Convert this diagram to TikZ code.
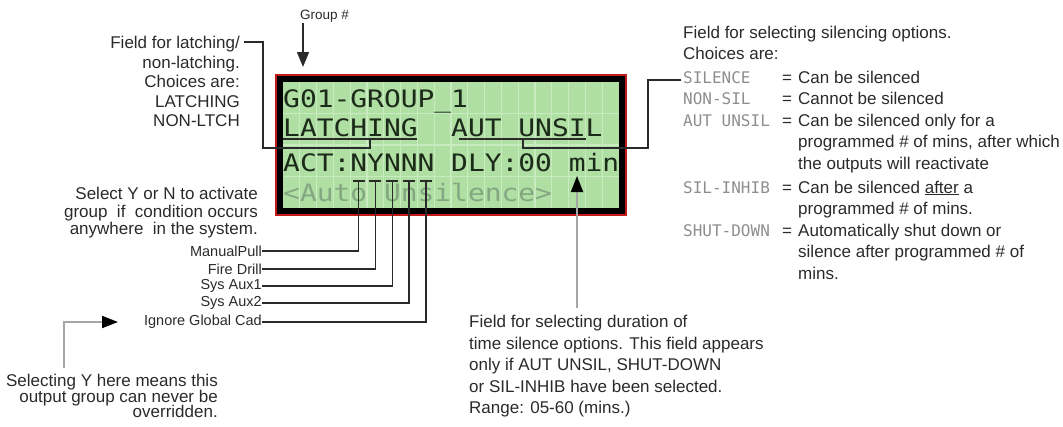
\documentclass[tikz,border=0pt]{standalone}
\usepackage{fontspec}
\setmainfont{Liberation Sans}
\newfontfamily\lcdfont[FakeStretch=1.163]{DejaVu Sans Mono}
\newfontfamily\codefont{DejaVu Sans Mono}
\usetikzlibrary{arrows.meta,positioning,calc}
\definecolor{Ink}{HTML}{2A2A2A}
\definecolor{Lead}{HTML}{A6A6A6}
\definecolor{CodeGrey}{HTML}{8E8E8E}
\definecolor{Bezel}{HTML}{C21A1A}
\definecolor{LcdGreen}{HTML}{B0DFA4}
\definecolor{LcdGrid}{HTML}{C8ECBF}
\definecolor{LcdInk}{HTML}{1C2A19}
\definecolor{LcdDim}{HTML}{84A781}
\tikzset{
  lcdbox/.style={draw=black,fill=LcdGreen,line width=6pt,minimum width=342pt,minimum height=132pt,inner sep=0pt,outer sep=0pt},
  bezel/.style={draw=Bezel,line width=2pt},
  cellrule/.style={draw=LcdGrid,line width=1.3pt},
  lcdrow/.style={font={\lcdfont\fontsize{24}{24}\selectfont},text=LcdInk,inner sep=0pt,anchor=base west},
  note/.style={font=\fontsize{17}{20.5}\selectfont,text=Ink,inner sep=0pt,align=right},
  tag/.style={font=\fontsize{14.5}{17}\selectfont,text=Ink,inner sep=0pt,anchor=east},
  code/.style={font={\codefont\fontsize{16}{16}\selectfont},text=CodeGrey,inner sep=0pt,anchor=base west},
  wire/.style={draw=Ink,line width=1.4pt},
  flow/.style={draw=Ink,line width=1.4pt,-{Triangle[length=15pt,width=12pt]}},
  pointer/.style={draw=Lead,line width=1.8pt,-{Triangle[length=16pt,width=12pt,color=black]}}
}
\begin{document}
\begin{tikzpicture}[x=1pt,y=-1pt]
        \useasboundingbox (0,0) rectangle (1063,426);

        % the display
        \node[lcdbox] (lcd) at (451,145) {};
        \draw[bezel] ([shift={(-4pt,-4pt)}]lcd.south west) rectangle ([shift={(4pt,4pt)}]lcd.north east);
        \foreach \k in {1,...,19}
          \draw[cellrule] ({283+16.8*\k},82) -- ++(0,126);
        \foreach \yy in {113.5,145,176.5}
          \draw[cellrule] (283,\yy) -- (619,\yy);

        \node[lcdrow] (row1) at (283,107) {G01-GROUP\_1};
        \node[lcdrow] (row2) at (283,136) {LATCHING~~AUT UNSIL};
        \node[lcdrow] (row3) at (283,171) {ACT:NYNNN DLY:00 min};
        \node[lcdrow,text=LcdDim] (row4) at (283,201) {<Auto Unsilence>};

        % group number
        \node[font=\fontsize{13.5}{16}\selectfont,text=Ink,inner sep=0pt,anchor=base west] (grp) at (300,19) {Group \#};
        \coordinate (grpFoot) at (303,23);
        \coordinate (grpTip) at (303,67);
        \draw[flow] (grpFoot) -- (grpTip);

        % latching field
        \node[note,anchor=north east,font=\fontsize{17}{19.5}\selectfont] (fldLatch) at (240,36)
          {Field for latching/\\non-latching.\\Choices are:\\LATCHING\\NON-LTCH};
        \coordinate (latA) at (283,139);
        \coordinate (latB) at (417,139);
        \coordinate (latTap) at (370,139);
        \coordinate (latCorner) at (263,42);
        \coordinate (latLead) at (244,42);
        \draw[wire] (latA) -- (latB);
        \draw[wire] (latTap) -- ++(0,9) -| (latCorner) -- (latLead);

        % silencing field
        \coordinate (autA) at (459,139);
        \coordinate (autB) at (586,139);
        \coordinate (autTap) at (523,139);
        \coordinate (autCorner) at (648,80);
        \coordinate (autLead) at (681,80);
        \draw[wire] (autA) -- (autB);
        \draw[wire] (autTap) -- ++(0,9) -| (autCorner) -- (autLead);

        \node[note,anchor=north west,align=left] (silHead) at (683,26)
          {Field for selecting silencing options.\\Choices are:};
        \foreach \nm/\cd/\yy in {sil/SILENCE/83,non/NON-SIL/104,aut/AUT UNSIL/126,inh/SIL-INHIB/193,shd/SHUT-DOWN/236}{
          \node[code] (\nm) at (683,\yy) {\cd};
          \node[note,anchor=base west] (\nm eq) at (782,\yy) {=};
        }
        \node[note,anchor=base west] (silTxt) at (798,83) {Can be silenced};
        \node[note,anchor=base west] (nonTxt) at (798,104) {Cannot be silenced};
        \node[note,anchor=north west,align=left,font=\fontsize{17}{21.5}\selectfont] (autTxt) at (798,113.5)
          {Can be silenced only for a\\programmed \# of mins, after which\\the outputs will reactivate};
        \node[note,anchor=north west,align=left,font=\fontsize{17}{21.5}\selectfont] (inhTxt) at (798,180.5)
          {Can be silenced \underline{after} a\\programmed \# of mins.};
        \node[note,anchor=north west,align=left,font=\fontsize{17}{21.5}\selectfont] (shdTxt) at (798,223.5)
          {Automatically shut down or\\silence after programmed \# of\\mins.};

        % activation flags
        \node[note,anchor=north east,font=\fontsize{17}{17.5}\selectfont] (selYN) at (258,187)
          {Select Y or N to activate\\group~ if~ condition occurs\\anywhere~ in the system.};
        \foreach \nm/\txt/\yy/\k in {mp/ManualPull/251/4,fd/Fire Drill/269/5,sa/Sys Aux1/286/6,sb/Sys Aux2/303/7,ig/Ignore Global Cad/322/8}{
          \node[tag] (\nm) at (262,\yy) {\txt};
          \coordinate (t\nm) at ({283+16.8*(\k+0.5)},181);
          \draw[wire] (\nm.east) -| (t\nm);
          \draw[wire] ([xshift=-6pt]t\nm) -- ([xshift=6pt]t\nm);
        }

        % override note
        \coordinate (ovrFoot) at (64,368);
        \coordinate (ovrTip) at (118,322);
        \draw[pointer] (ovrFoot) |- (ovrTip);
        \node[note,anchor=north east,font={\fontsize{17}{15.5}\selectfont\lineskiplimit=-20pt}] (ovr) at (218,374)
          {Selecting Y here means this\\output group can never be\\overridden.};

        % delay field
        \coordinate (minFoot) at (577,308);
        \coordinate (minTip) at (577,176);
        \draw[pointer] (minFoot) -- (minTip);
        \node[note,anchor=north west,align=left,font=\fontsize{17}{21.5}\selectfont] (durTxt) at (469,315)
          {Field for selecting duration of\\time silence options. This field appears\\only if AUT UNSIL, SHUT-DOWN\\or SIL-INHIB have been selected.\\Range: 05-60 (mins.)};
      \end{tikzpicture}
\end{document}
